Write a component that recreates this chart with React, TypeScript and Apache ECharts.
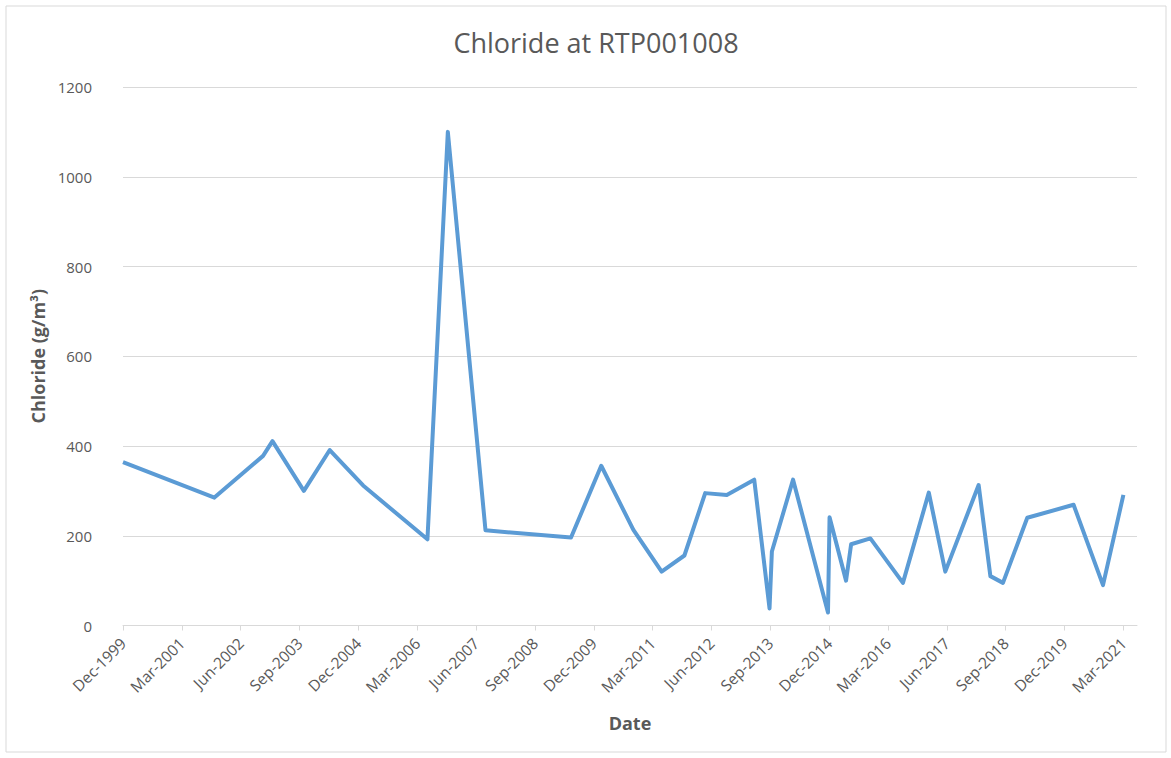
import React, { useEffect, useRef } from "react";
import * as echarts from "echarts";

const TITLE = "Chloride at RTP001008";
const Y_NAME = "Chloride (g/m³)";
const X_NAME = "Date";

const sampleDates = [
  "1999-12-01", "2001-11-10", "2002-11-22", "2003-02-04", "2003-10-04",
  "2004-04-22", "2005-01-07", "2006-05-19", "2006-10-25", "2007-08-13",
  "2009-06-07", "2010-01-28", "2010-10-04", "2011-05-10", "2011-11-04",
  "2012-04-13", "2012-09-28", "2013-04-28", "2013-08-25", "2013-09-13",
  "2014-02-25", "2014-11-22", "2014-12-04", "2015-04-10", "2015-05-19",
  "2015-10-16", "2016-06-25", "2017-01-13", "2017-05-19", "2018-02-04",
  "2018-05-04", "2018-08-10", "2019-02-16", "2020-02-10", "2020-09-25",
  "2021-03-01",
];

const chlorideValues = [
  364, 285, 378, 411, 300,
  391, 312, 192, 1100, 212,
  196, 356, 213, 120, 156,
  295, 291, 325, 38, 165,
  325, 29, 241, 100, 181,
  194, 95, 296, 120, 313,
  110, 95, 240, 269, 90,
  291,
];

const tickLabels = [
  "Dec-1999", "Mar-2001", "Jun-2002", "Sep-2003", "Dec-2004", "Mar-2006",
  "Jun-2007", "Sep-2008", "Dec-2009", "Mar-2011", "Jun-2012", "Sep-2013",
  "Dec-2014", "Mar-2016", "Jun-2017", "Sep-2018", "Dec-2019", "Mar-2021",
];

const AXIS_END_DATE = "2021-06-15";

const MONTHS = ["Jan", "Feb", "Mar", "Apr", "May", "Jun", "Jul", "Aug", "Sep", "Oct", "Nov", "Dec"];
const BASE_YEAR = 1999;
const BASE_MONTH = 12;

function dateToIndex(d: string): number {
  const [y, m, day] = d.split("-").map(Number);
  return (y - BASE_YEAR) * 12 + (m - BASE_MONTH) + (day - 1) / 30;
}

function labelToIndex(l: string): number {
  const [mon, yr] = l.split("-");
  const m = MONTHS.indexOf(mon) + 1;
  return (Number(yr) - BASE_YEAR) * 12 + (m - BASE_MONTH);
}

export default function App() {
  const ref = useRef<HTMLDivElement>(null);

  useEffect(() => {
    if (!ref.current) return;
    const chart = echarts.init(ref.current, null, { renderer: "svg" });
    const tickIdx = tickLabels.map(labelToIndex);
    const labelMap: Record<string, string> = {};
    tickLabels.forEach((l, i) => (labelMap[String(tickIdx[i])] = l));
    const data = sampleDates.map((d, i) => [dateToIndex(d), chlorideValues[i]]);
    const font = "'Open Sans', 'Noto Sans', sans-serif";

    chart.setOption({
      animation: false,
      backgroundColor: "#ffffff",
      textStyle: { fontFamily: font },
      title: {
        text: TITLE,
        left: 591,
        top: 24,
        textAlign: "center",
        textStyle: { fontSize: 27, fontWeight: "normal", color: "#595959", fontFamily: font },
      },
      graphic: [
        {
          type: "rect",
          shape: { x: 6, y: 6, width: 1160, height: 746 },
          style: { fill: "none", stroke: "#d9d9d9", lineWidth: 1 },
          silent: true,
        },
      ],
      grid: { left: 123, right: 34, top: 87, bottom: 132.5, containLabel: false },
      xAxis: {
        type: "value",
        min: 0,
        max: dateToIndex(AXIS_END_DATE),
        name: X_NAME,
        nameLocation: "middle",
        nameGap: 88,
        nameTextStyle: { fontSize: 18, fontWeight: "bold", color: "#595959" },
        axisLine: { show: true, lineStyle: { color: "#d9d9d9", width: 1 } },
        axisTick: {
          show: true,
          customValues: tickIdx,
          length: 5,
          lineStyle: { color: "#d9d9d9" },
        },
        splitLine: { show: false },
        axisLabel: {
          customValues: tickIdx,
          rotate: 45,
          fontSize: 15.5,
          color: "#595959",
          margin: 15,
          formatter: (v: number) => labelMap[String(Math.round(v))] ?? "",
        },
      },
      yAxis: {
        type: "value",
        min: 0,
        max: 1200,
        interval: 200,
        name: Y_NAME,
        nameLocation: "middle",
        nameGap: 60,
        nameTextStyle: { fontSize: 18, fontWeight: "bold", color: "#595959" },
        axisLine: { show: false },
        axisTick: { show: false },
        splitLine: { lineStyle: { color: "#d9d9d9", width: 1 } },
        axisLabel: {
          fontSize: 15,
          color: "#595959",
          margin: 31,
          formatter: (v: number) => String(v),
        },
      },
      series: [
        {
          type: "line",
          data,
          showSymbol: false,
          symbol: "none",
          lineStyle: { color: "#5b9bd5", width: 4, join: "round" },
          itemStyle: { color: "#5b9bd5" },
        },
      ],
    });
    return () => chart.dispose();
  }, []);

  return (
    <div
      ref={ref}
      style={{ position: "fixed", left: 0, top: 0, width: 1171, height: 758 }}
    />
  );
}
